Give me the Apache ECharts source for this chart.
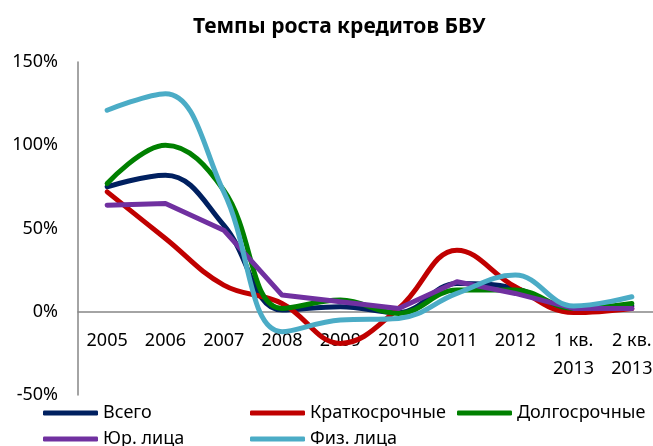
<!DOCTYPE html>
<html lang="ru">
<head>
    <meta charset="UTF-8">
    <script src="https://cdn.jsdelivr.net/npm/echarts@6.0.0/dist/echarts.min.js"></script>
    <title>Темпы роста кредитов БВУ</title>
    <style>
        body { margin: 0; }
    </style>
</head>
<body>
    <div id="main" style="width: 653px;height:446px;"></div>
    <script type="text/javascript">
        // categories and values (percent)
        const categories = ['2005', '2006', '2007', '2008', '2009', '2010', '2011', '2012', '1 кв.\n2013', '2 кв.\n2013'];
        const vsego = [75, 82, 52, 1, 3, -0.5, 17, 14, 2, 3.5];
        const kratko = [72, 44, 16, 5, -19, 2, 37, 15, -0.5, 2];
        const dolgo = [77, 100, 73, 2, 7, -1, 13, 13, 2, 5];
        const yur = [64, 65, 49, 10, 6, 2, 18, 11, 2, 2];
        const fiz = [121, 131, 72, -12, -5, -4, 11, 22, 3.5, 9];
        const yTicks = [-50, 0, 50, 100, 150];

        const font = '"Noto Sans", sans-serif';
        let myChart = echarts.init(document.getElementById('main'));

        function line(name, data, color, smooth) {
            return {
                name: name,
                type: 'line',
                data: data,
                smooth: smooth,
                symbol: 'none',
                lineStyle: { width: 5, color: color, cap: 'round', join: 'round' },
                itemStyle: { color: color }
            };
        }

        // one legend per item so the columns line up like the original
        function legendItem(name, left, top) {
            return {
                data: [name],
                left: left,
                top: top,
                icon: 'roundRect',
                itemWidth: 55,
                itemHeight: 5,
                itemGap: 0,
                padding: 0,
                selectedMode: false,
                textStyle: { fontFamily: font, fontSize: 18, color: '#000' }
            };
        }

        const gridTop = 62, gridBottom = 51, gridH = 446 - gridTop - gridBottom;
        const zeroOffset = -gridH * (0 - yTicks[0]) / (yTicks[yTicks.length - 1] - yTicks[0]);

        let options = {
            animation: false,
            title: {
                text: 'Темпы роста кредитов БВУ',
                left: 188,
                top: 12,
                textStyle: { fontFamily: font, fontSize: 21, fontWeight: 'bold', color: '#000' }
            },
            legend: [
                legendItem('Всего', 43, 404),
                legendItem('Краткосрочные', 250, 404),
                legendItem('Долгосрочные', 457, 404),
                legendItem('Юр. лица', 43, 430),
                legendItem('Физ. лица', 250, 430)
            ],
            grid: { left: 78, top: gridTop, width: 583, bottom: gridBottom, outerBoundsMode: 'none' },
            xAxis: {
                type: 'category',
                data: categories,
                boundaryGap: true,
                offset: zeroOffset,
                axisLine: { onZero: false, lineStyle: { color: '#868686', width: 1.5 } },
                axisTick: { show: false },
                axisLabel: { fontFamily: font, fontSize: 18, color: '#000', margin: 15, lineHeight: 28, interval: 0 }
            },
            yAxis: {
                type: 'value',
                min: yTicks[0],
                max: yTicks[yTicks.length - 1],
                interval: 50,
                axisLine: { show: true, lineStyle: { color: '#868686', width: 1.5 } },
                axisTick: { show: false },
                splitLine: { show: false },
                axisLabel: { fontFamily: font, fontSize: 18, color: '#000', margin: 20, formatter: '{value}%' }
            },
            series: [
                line('Всего', vsego, '#002060', 0.4),
                line('Краткосрочные', kratko, '#C00000', 0.4),
                line('Долгосрочные', dolgo, '#008000', 0.4),
                line('Юр. лица', yur, '#7030A0', false),
                line('Физ. лица', fiz, '#4BACC6', 0.4)
            ]
        };
        myChart.setOption(options);
    </script>
</body>
</html>
